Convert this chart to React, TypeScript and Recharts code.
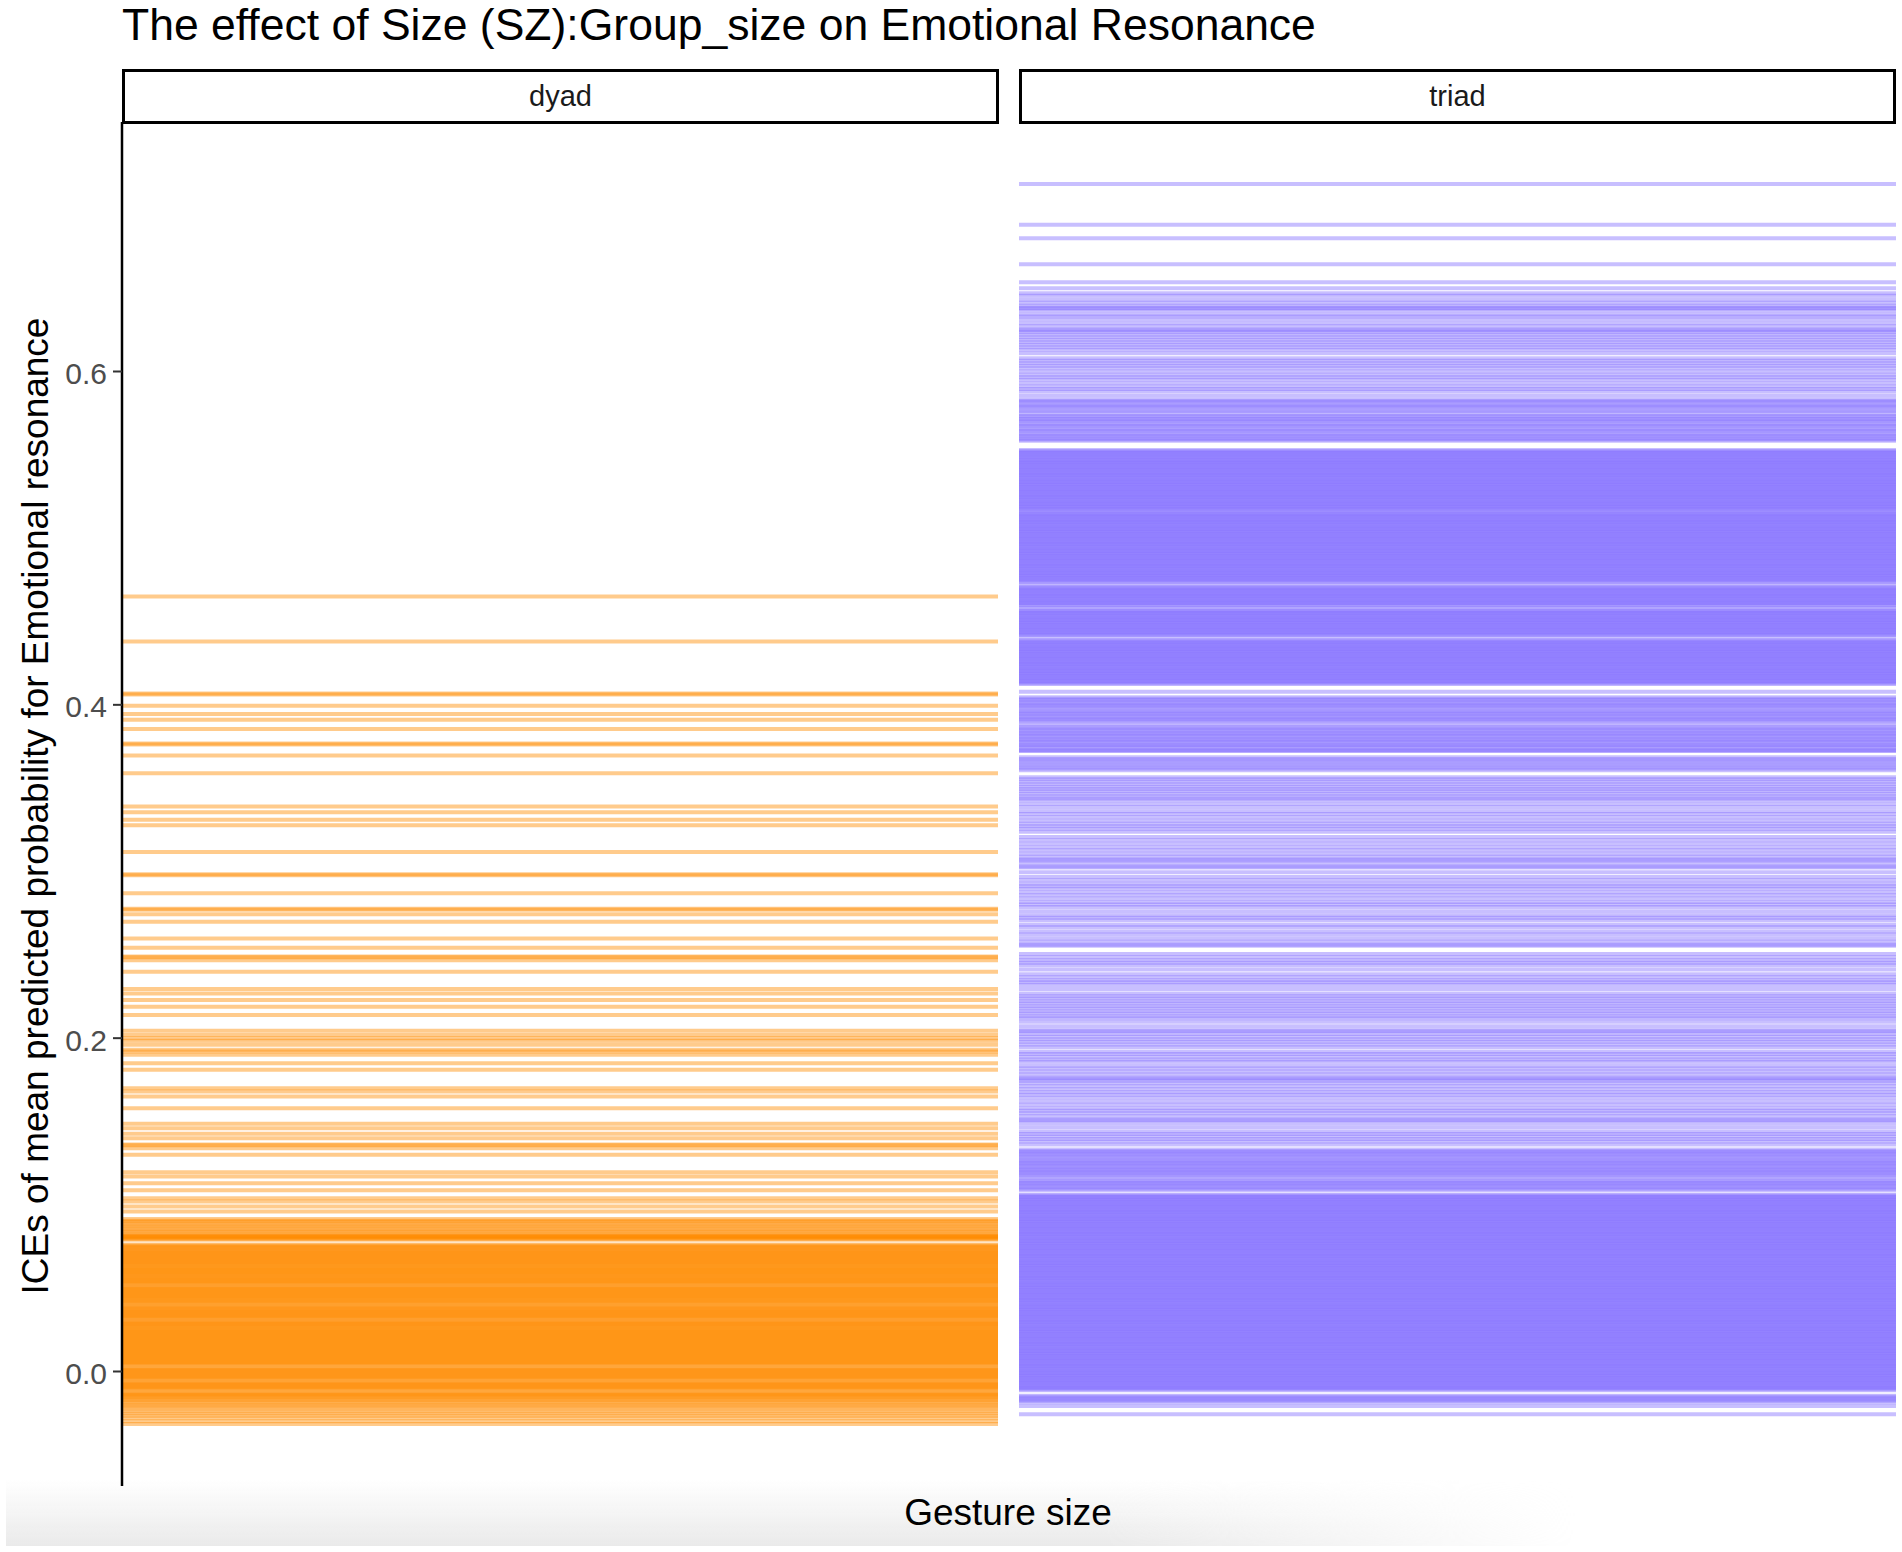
import React from "react";
import { LineChart, Line, XAxis, YAxis } from "recharts";

// facet labels
const facets = ["dyad", "triad"];

const yTicks = [0, 0.2, 0.4, 0.6];
const yDomain = [-0.0687, 0.7497];

// ICE line levels, dyad panel (read top to bottom)
const dyadIce = [
  0.465, 0.438, 0.4068, 0.4062, 0.3995, 0.3945, 0.391, 0.3855, 0.3768, 0.3762,
  0.3696, 0.359, 0.339, 0.3356, 0.331, 0.3277, 0.3117, 0.2983, 0.2978, 0.287,
  0.2776, 0.2771, 0.2744, 0.2698, 0.2598, 0.2542, 0.249, 0.2486, 0.2468, 0.2398,
  0.2295, 0.2268, 0.2229, 0.2189, 0.2139, 0.2045, 0.2019, 0.1999, 0.1985, 0.196,
  0.193, 0.192, 0.19, 0.185, 0.181, 0.17, 0.168, 0.165, 0.158, 0.1486,
  0.146, 0.1426, 0.14, 0.1362, 0.1358, 0.134, 0.13, 0.1195, 0.117, 0.113,
  0.1087, 0.104, 0.102, 0.099, 0.096,
  0.0915, 0.0905, 0.0898, 0.0888, 0.0876, 0.0868, 0.0857, 0.0846, 0.0838, 0.0826,
  0.0818, 0.0812, 0.0811, 0.0809, 0.0806, 0.0801, 0.0795, 0.079,
  0.0762, 0.0756, 0.075, 0.0744, 0.0738, 0.0731, 0.0725, 0.0719, 0.0713, 0.0707,
  0.0701, 0.0695, 0.0689, 0.0683, 0.0676, 0.067, 0.0664, 0.0658, 0.0652, 0.0646,
  0.064, 0.0634, 0.0627, 0.0621, 0.0615, 0.0609, 0.0603, 0.0597, 0.0591, 0.0585,
  0.0579, 0.0572, 0.0566, 0.056, 0.0554, 0.0548, 0.0542, 0.0536, 0.053, 0.0524,
  0.0512, 0.0506, 0.05, 0.0494, 0.0488, 0.0481, 0.0475, 0.0469, 0.0463, 0.0457,
  0.0451, 0.0445, 0.0439, 0.0433, 0.0426, 0.042, 0.0414, 0.0408,
  0.0396, 0.039, 0.0384, 0.0377, 0.0371, 0.0365, 0.0359, 0.0353, 0.0347, 0.0341,
  0.0335, 0.0329, 0.0323, 0.0317,
  0.0304, 0.0298, 0.0292, 0.0286, 0.028, 0.0274, 0.0268, 0.0262, 0.0255, 0.0249,
  0.0243, 0.0237, 0.0231, 0.0225, 0.0219, 0.0213, 0.0207, 0.0201, 0.0195, 0.0189,
  0.0183, 0.0177, 0.0171, 0.0165, 0.0159, 0.0153, 0.0147, 0.0141, 0.0135, 0.0129,
  0.0123, 0.0117, 0.0111, 0.0105, 0.0099, 0.0093, 0.0087, 0.0081, 0.0075, 0.0069,
  0.0063, 0.0057, 0.0051, 0.0045, 0.0039,
  0.0024, 0.0018, 0.0012, 0.0006, 0.0, -0.0006, -0.0012, -0.0018, -0.0024, -0.003,
  -0.0036, -0.0042, -0.0048,
  -0.0062, -0.0068, -0.0074, -0.008, -0.0086, -0.0092, -0.0098, -0.0104, -0.011,
  -0.0124, -0.013, -0.0136, -0.0142, -0.0148, -0.0155, -0.0163, -0.0171, -0.018, -0.019,
  -0.0201, -0.0212, -0.0224, -0.0238, -0.0252, -0.0266, -0.028, -0.0298, -0.0315,
];

// ICE line levels, triad panel
const triadIce = [
  0.7125, 0.688, 0.68, 0.6644, 0.6536, 0.65, 0.647, 0.6455, 0.643, 0.6412,
  0.6395, 0.6382, 0.6378, 0.6365, 0.6342, 0.633, 0.6312, 0.629, 0.6272, 0.6252,
  0.6248, 0.6235, 0.622, 0.6205, 0.619, 0.6175, 0.616, 0.6145, 0.613, 0.611,
  0.608, 0.6065, 0.605, 0.6035, 0.602, 0.6, 0.598, 0.5965, 0.595, 0.593,
  0.591, 0.5895, 0.588, 0.5855,
  0.5831, 0.5823, 0.5815, 0.5801, 0.5793, 0.5786, 0.5771, 0.5762, 0.5748, 0.5733,
  0.5729, 0.5715, 0.5708, 0.5701, 0.5686, 0.5678, 0.5671, 0.5656, 0.5648, 0.5641,
  0.5626, 0.5618, 0.5611, 0.5598, 0.5592, 0.5585,
  0.5529, 0.5523, 0.5515, 0.5511, 0.5503, 0.5497, 0.549, 0.5486, 0.5478, 0.5471,
  0.5466, 0.5459, 0.5452, 0.5448, 0.544, 0.5434, 0.5427, 0.5423, 0.5415, 0.5408,
  0.5404, 0.5396, 0.539, 0.5383, 0.5379, 0.5371, 0.5364, 0.536, 0.5352, 0.5346,
  0.5339, 0.5335, 0.5327, 0.532, 0.5316, 0.5308, 0.5302, 0.5295, 0.5291, 0.5283,
  0.5276, 0.5272, 0.5264, 0.5258, 0.5251, 0.5247, 0.5239, 0.5232, 0.5228, 0.522,
  0.5214, 0.5207, 0.5203, 0.5195, 0.5188, 0.5184, 0.5176, 0.517, 0.5161,
  0.5152, 0.5145, 0.5141, 0.5133, 0.5126, 0.5122, 0.5114, 0.5108, 0.5101, 0.5097,
  0.5089, 0.5082, 0.5078, 0.507, 0.5064, 0.5057, 0.5053, 0.5045, 0.5038, 0.5034,
  0.5026, 0.502, 0.5013, 0.5009, 0.5001, 0.4994, 0.499, 0.4982, 0.4976, 0.4969,
  0.4965, 0.4957, 0.495, 0.4946, 0.4938, 0.4932, 0.4925, 0.4921, 0.4913, 0.4906,
  0.4902, 0.4894, 0.4888, 0.4881, 0.4877, 0.4869, 0.4862, 0.4858, 0.485, 0.4844,
  0.4837, 0.4833, 0.4825, 0.4818, 0.4814, 0.4806, 0.48, 0.4793, 0.4789, 0.4781,
  0.4774, 0.477, 0.4762, 0.4756, 0.4749, 0.4745, 0.4737, 0.4722,
  0.4708, 0.4701, 0.4697, 0.4689, 0.4682, 0.4678, 0.467, 0.4664, 0.4657, 0.4653,
  0.4645, 0.4638, 0.4634, 0.4626, 0.462, 0.4613, 0.4609, 0.4601, 0.4594, 0.4581,
  0.4568, 0.4562, 0.4555, 0.4551, 0.4543, 0.4536, 0.4532, 0.4524, 0.4518, 0.4511,
  0.4507, 0.4499, 0.4492, 0.4488, 0.448, 0.4474, 0.4467, 0.4463, 0.4455, 0.4448,
  0.4444, 0.4436, 0.443, 0.4423, 0.4419, 0.4404,
  0.4388, 0.4381, 0.4377, 0.4369, 0.4362, 0.4358, 0.435, 0.4344, 0.4337, 0.4333,
  0.4325, 0.4318, 0.4314, 0.4306, 0.43, 0.4293, 0.4289, 0.4281, 0.4274, 0.427,
  0.4262, 0.4256, 0.4249, 0.4245, 0.4237, 0.423, 0.4226, 0.4218, 0.4212, 0.4205,
  0.4201, 0.4193, 0.4186, 0.4182, 0.4174, 0.4168, 0.4161, 0.4157, 0.4149, 0.4142,
  0.4138, 0.413, 0.4125,
  0.4078,
  0.4046, 0.4037, 0.4029, 0.4018, 0.401, 0.4001, 0.3993, 0.3984, 0.3972,
  0.3962, 0.3953, 0.3945, 0.3934, 0.3926, 0.3917, 0.3909, 0.39, 0.3884,
  0.3868, 0.3859, 0.385, 0.3842, 0.3831, 0.3823, 0.3814, 0.3806, 0.3795, 0.3787,
  0.3778, 0.377, 0.3759, 0.3751, 0.3745, 0.3729, 0.3726, 0.3723,
  0.3686, 0.3675, 0.3664, 0.3652, 0.3641, 0.3629, 0.3618, 0.3607,
  0.3565, 0.3553, 0.3538, 0.3524, 0.3509, 0.3495, 0.3481, 0.3466, 0.3452, 0.3438,
  0.3428, 0.3405, 0.3386, 0.3362, 0.3345, 0.3326, 0.3305, 0.3286, 0.3272, 0.3256,
  0.3238, 0.3207, 0.3188, 0.3166, 0.3145, 0.3128, 0.3107, 0.3088, 0.3072, 0.3066,
  0.3048, 0.303, 0.3024, 0.2995, 0.2967, 0.2948, 0.2927, 0.2912, 0.2897, 0.2875,
  0.2857, 0.2838, 0.2817, 0.2802, 0.2787, 0.2762, 0.2738, 0.2722, 0.2708, 0.268,
  0.2665, 0.264, 0.2622, 0.2598, 0.2578, 0.2561, 0.2555, 0.2505, 0.2485, 0.2468,
  0.2452, 0.2438, 0.2412, 0.2384, 0.2365, 0.2348, 0.2335, 0.2319, 0.2295, 0.2268,
  0.2252, 0.2238, 0.2222, 0.2208, 0.2192, 0.2178, 0.2162, 0.2148, 0.2132, 0.2119,
  0.2099, 0.2072, 0.2048, 0.2042, 0.2025, 0.2009, 0.1993, 0.1979, 0.1962, 0.1945,
  0.1919, 0.1905, 0.1889, 0.1872, 0.1859, 0.1834, 0.1818, 0.18, 0.1782, 0.1762,
  0.1756, 0.1745, 0.1729, 0.1712, 0.1693, 0.1676, 0.166, 0.1642, 0.162, 0.16,
  0.158, 0.1565, 0.155, 0.1532, 0.1512, 0.1508, 0.149, 0.1465, 0.144, 0.1425,
  0.141, 0.1395, 0.138, 0.1362,
  0.1332, 0.1323, 0.1315, 0.1306, 0.1297, 0.1289, 0.1278,
  0.1268, 0.126, 0.1251, 0.1243, 0.1234, 0.1226, 0.1217, 0.1209, 0.12, 0.1192,
  0.1183, 0.1175, 0.1162,
  0.1148, 0.114, 0.1131, 0.1123, 0.1114, 0.1106, 0.1097, 0.1089,
  0.1062, 0.1056, 0.1049, 0.1045, 0.1037, 0.103, 0.1026, 0.1018, 0.1012, 0.1005,
  0.1001, 0.0993, 0.0986, 0.0982, 0.0974, 0.0968, 0.0961, 0.0957, 0.0949, 0.0942,
  0.0938, 0.093, 0.0924, 0.0917, 0.0913, 0.0905, 0.0898, 0.0894, 0.0886, 0.088,
  0.0873, 0.0869, 0.0861, 0.0854, 0.085, 0.0842, 0.0836, 0.0829, 0.0825, 0.0817,
  0.081, 0.0806, 0.0798, 0.0792, 0.0785, 0.0781, 0.0773, 0.0766, 0.0762, 0.0754,
  0.0748, 0.0741, 0.0737, 0.0729, 0.0722, 0.0718, 0.071, 0.0704, 0.0697, 0.0693,
  0.0685, 0.0678, 0.0674, 0.0666, 0.066, 0.0653, 0.0649, 0.0641, 0.0634, 0.063,
  0.0622, 0.0616, 0.0609, 0.0605, 0.0597, 0.059, 0.0586, 0.0578, 0.0572, 0.0565,
  0.0561, 0.0553, 0.0546, 0.0542, 0.0534, 0.0528, 0.0521, 0.0517, 0.0509, 0.0502,
  0.0498, 0.049, 0.0484, 0.0477, 0.0473, 0.0465, 0.0458, 0.0454, 0.0446, 0.044,
  0.0433, 0.0429, 0.0421, 0.0414, 0.041, 0.0402, 0.0396, 0.0389, 0.0385, 0.0377,
  0.037, 0.0366, 0.0358, 0.0352, 0.0345, 0.0341, 0.0333, 0.0326, 0.0322, 0.0314,
  0.0308, 0.0301, 0.0297, 0.0289, 0.0282, 0.0278, 0.027, 0.0264, 0.0257, 0.0253,
  0.0245, 0.0238, 0.0234, 0.0226, 0.022, 0.0213, 0.0209, 0.0201, 0.0194, 0.019,
  0.0182, 0.0176, 0.0169, 0.0165, 0.0157, 0.015, 0.0146, 0.0138, 0.0132, 0.0125,
  0.0121, 0.0113, 0.0106, 0.0102, 0.0094, 0.0088, 0.0081, 0.0077, 0.0069, 0.0062,
  0.0058, 0.005, 0.0044, 0.0037, 0.0033, 0.0025, 0.0018, 0.0014, 0.0006, 0.0,
  -0.0007, -0.0011, -0.0019, -0.0026, -0.003, -0.0038, -0.0044, -0.0051, -0.0055, -0.0063,
  -0.007, -0.0074, -0.0082, -0.0088, -0.0095, -0.0099, -0.0107, -0.0112,
  -0.0145, -0.0152, -0.016, -0.0168, -0.0176, -0.0184, -0.0207, -0.0257,
];

const DYAD_COLOR = "#FF8C00";
const TRIAD_COLOR = "#8470FF";
const FONT = "'Liberation Sans', Arial, Helvetica, sans-serif";

const segment = (v: number) => [
  { x: 0, y: v },
  { x: 1, y: v },
];

const iceLines = (values: number[], color: string) =>
  values.map((v, i) => (
    <Line
      key={i}
      data={segment(v)}
      dataKey="y"
      type="linear"
      stroke={color}
      strokeOpacity={0.45}
      strokeWidth={4}
      dot={false}
      activeDot={false}
      legendType="none"
      isAnimationActive={false}
    />
  ));

const Strip = ({ label, left }: { label: string; left: number }) => (
  <div
    style={{
      position: "absolute",
      left,
      top: 69,
      width: 877,
      height: 55,
      boxSizing: "border-box",
      border: "3px solid #000",
      background: "#fff",
      display: "flex",
      alignItems: "center",
      justifyContent: "center",
      fontSize: 29,
      color: "#1a1a1a",
    }}
  >
    {label}
  </div>
);

const App = () => {
  return (
    <div
      style={{
        position: "absolute",
        left: 0,
        top: 0,
        width: 1902,
        height: 1552,
        background: "#fff",
        fontFamily: FONT,
        overflow: "hidden",
      }}
    >
      {/* soft grey band along the bottom of the original screenshot */}
      <div
        style={{
          position: "absolute",
          left: 6,
          top: 1480,
          width: 1570,
          height: 66,
          background: "linear-gradient(to bottom, rgba(238,238,238,0), rgba(234,234,234,1))",
          WebkitMaskImage: "linear-gradient(to right, #000 70%, transparent)",
          maskImage: "linear-gradient(to right, #000 70%, transparent)",
        }}
      />

      <div
        style={{
          position: "absolute",
          left: 122,
          top: 3,
          fontSize: 44.5,
          lineHeight: "44px",
          color: "#000",
          whiteSpace: "nowrap",
        }}
      >
        The effect of Size (SZ):Group_size on Emotional Resonance
      </div>

      <Strip label={facets[0]} left={122} />
      <Strip label={facets[1]} left={1019} />

      <div style={{ position: "absolute", left: 0, top: 122 }}>
        <LineChart width={998} height={1364} margin={{ top: 0, right: 0, bottom: 0, left: 0 }}>
          <XAxis dataKey="x" type="number" domain={[0, 1]} hide allowDataOverflow />
          <YAxis
            type="number"
            domain={yDomain}
            ticks={yTicks}
            allowDataOverflow
            width={122}
            tickFormatter={(v: number) => v.toFixed(1)}
            axisLine={{ stroke: "#000", strokeWidth: 2.5 }}
            tickLine={{ stroke: "#333", strokeWidth: 2 }}
            tickSize={9}
            tickMargin={6}
            tick={{ fontSize: 30, fill: "#4d4d4d", fontFamily: FONT, dy: 2 }}
          />
          {iceLines(dyadIce, DYAD_COLOR)}
        </LineChart>
      </div>

      <div style={{ position: "absolute", left: 1019, top: 122 }}>
        <LineChart width={877} height={1364} margin={{ top: 0, right: 0, bottom: 0, left: 0 }}>
          <XAxis dataKey="x" type="number" domain={[0, 1]} hide allowDataOverflow />
          <YAxis type="number" domain={yDomain} hide allowDataOverflow />
          {iceLines(triadIce, TRIAD_COLOR)}
        </LineChart>
      </div>

      <div
        style={{
          position: "absolute",
          left: 36 - 650,
          top: 806 - 20,
          width: 1300,
          height: 40,
          lineHeight: "40px",
          textAlign: "center",
          fontSize: 37,
          color: "#000",
          transform: "rotate(-90deg)",
          whiteSpace: "nowrap",
        }}
      >
        ICEs of mean predicted probability for Emotional resonance
      </div>

      <div
        style={{
          position: "absolute",
          left: 1008 - 300,
          top: 1493,
          width: 600,
          lineHeight: "40px",
          textAlign: "center",
          fontSize: 37,
          color: "#000",
        }}
      >
        Gesture size
      </div>
    </div>
  );
};

export default App;
